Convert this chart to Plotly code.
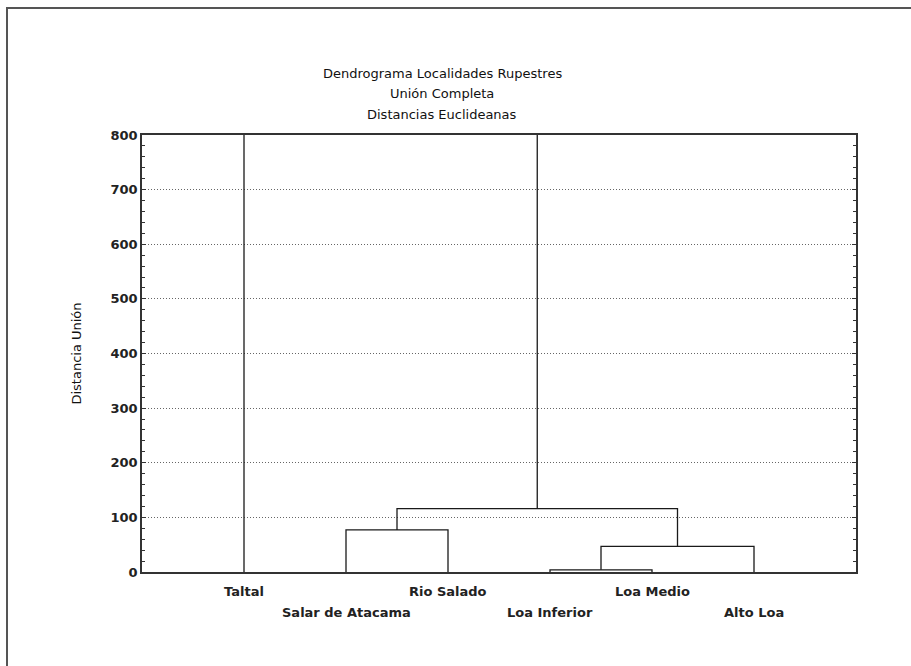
import plotly.graph_objects as go

# ---- data ----
leaves = ["Taltal", "Salar de Atacama", "Rio Salado", "Loa Inferior", "Loa Medio", "Alto Loa"]
# linkage: (child_a, child_b, height); indices >= len(leaves) are earlier clusters
merge_a = [3, 6, 1, 8, 0]
merge_b = [4, 5, 2, 7, 9]
merge_h = [4, 47, 77, 116, 1050]
title_lines = ["Dendrograma Localidades Rupestres", "Unión Completa", "Distancias Euclideanas"]
y_title = "Distancia Unión"
y_ticks = [0, 100, 200, 300, 400, 500, 600, 700, 800]

# ---- build link segments ----
n = len(leaves)
pos = {i: i + 1 for i in range(n)}
hgt = {i: 0 for i in range(n)}
xs, ys = [], []
for k, (a, b, h) in enumerate(zip(merge_a, merge_b, merge_h)):
    xs += [pos[a], pos[a], pos[b], pos[b], None]
    ys += [hgt[a], h, h, hgt[b], None]
    pos[n + k] = (pos[a] + pos[b]) / 2
    hgt[n + k] = h

FONT = "DejaVu Sans, Verdana, sans-serif"
L, R, T, B = 142, 856, 135, 572
PW, PH = R - L, B - T

fig = go.Figure()
fig.add_trace(go.Scatter(x=xs, y=ys, mode="lines",
                         line=dict(color="#1a1a1a", width=1.3),
                         hoverinfo="skip", showlegend=False))

lbl_font = dict(family=FONT, size=13, color="#222")
for i, name in enumerate(leaves):
    row_y = 591 if i % 2 == 0 else 612
    fig.add_annotation(x=i + 1, xref="x", y=(B - row_y) / PH, yref="paper",
                       text="<b>" + name + "</b>", showarrow=False, yanchor="middle",
                       font=lbl_font)

for j, t in enumerate(title_lines):
    fig.add_annotation(x=(442 - L) / PW, xref="paper", y=(B - (73 + 21 * j)) / PH,
                       yref="paper", text=t, showarrow=False, yanchor="middle",
                       font=dict(family=FONT, size=13, color="#111"))

fig.add_shape(type="rect", xref="paper", yref="paper",
              x0=(7 - L) / PW, x1=2, y0=-2, y1=(B - 8) / PH,
              line=dict(color="#555", width=2), fillcolor="rgba(0,0,0,0)", layer="below")

fig.update_layout(
    width=911, height=666,
    margin=dict(l=L, r=911 - R, t=T, b=666 - B),
    paper_bgcolor="white", plot_bgcolor="white",
    font=dict(family=FONT, size=13, color="#111"),
    xaxis=dict(range=[0, n + 1], showticklabels=False, ticks="", showgrid=False,
               zeroline=False, showline=True, linecolor="#333", linewidth=1.5, mirror=True,
               fixedrange=True),
    yaxis=dict(range=[0, 800], tickvals=y_ticks, ticktext=["<b>%d</b>" % v for v in y_ticks],
               ticks="inside", ticklen=4, tickcolor="#333", tickwidth=1.3,
               minor=dict(dtick=20, ticks="inside", ticklen=3, tickcolor="#333", showgrid=False),
               showgrid=True, gridcolor="#666", griddash="1px,2px", gridwidth=1,
               zeroline=False, showline=True, linecolor="#333", linewidth=1.5, mirror="ticks",
               title=dict(text=y_title, standoff=26, font=dict(size=13)),
               tickfont=dict(size=13, color="#222"), fixedrange=True),
)

fig.write_html("out.html", config={"displayModeBar": False},
               post_script="document.body.style.margin='0';")
